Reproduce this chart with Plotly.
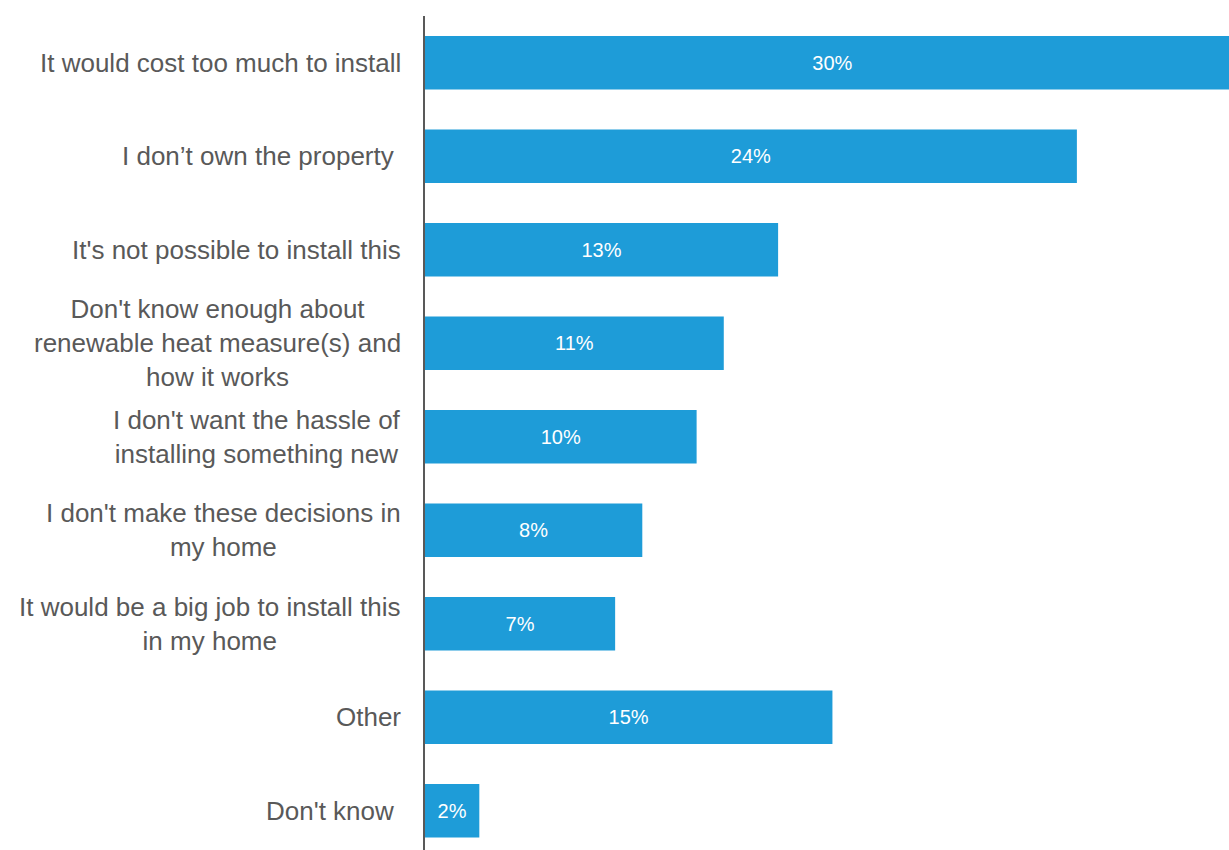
import plotly.graph_objects as go

# Survey reasons and share of respondents (%)
reasons = [
    "It would cost too much to install",
    "I don\u2019t own the property\u00a0",
    "It's not possible to install this",
    "Don't know enough about<br>renewable heat measure(s) and<br>how it works",
    "I don't want the hassle of<br>installing something new",
    "I don't make these decisions in<br>my home",
    "It would be a big job to install this<br>in my home",
    "Other",
    "Don't know\u00a0",
]
shares = [30, 24, 13, 11, 10, 8, 7, 15, 2]

BAR_COLOR = "#1E9CD8"
TEXT_GREY = "#595959"

positions = list(range(len(reasons)))

fig = go.Figure(
    go.Bar(
        x=shares,
        y=positions,
        orientation="h",
        marker=dict(color=BAR_COLOR, line=dict(width=0)),
        width=0.57,
        text=[f"{v}%" for v in shares],
        textposition="inside",
        insidetextanchor="middle",
        textangle=0,
        textfont=dict(family="Liberation Sans, Arial, sans-serif", size=20, color="white"),
        hoverinfo="skip",
    )
)

# Category labels, centred line by line and right-aligned against the axis
for pos, label in zip(positions, reasons):
    fig.add_annotation(
        x=0, xref="paper", xanchor="right", xshift=-22,
        y=pos, yref="y", yanchor="middle",
        text=label, align="center", showarrow=False,
        font=dict(family="Liberation Sans, Arial, sans-serif", size=26, color=TEXT_GREY),
    )

fig.update_layout(
    width=1229,
    height=850,
    margin=dict(l=425, r=0, t=16, b=0),
    paper_bgcolor="white",
    plot_bgcolor="white",
    showlegend=False,
    xaxis=dict(range=[0, 29.6], visible=False, fixedrange=True),
    yaxis=dict(
        range=[8.42, -0.5],
        showticklabels=False,
        showgrid=False,
        zeroline=False,
        showline=True,
        linecolor=TEXT_GREY,
        linewidth=1.5,
        ticks="",
        fixedrange=True,
    ),
)

fig.write_html("out.html", config={"displayModeBar": False})
